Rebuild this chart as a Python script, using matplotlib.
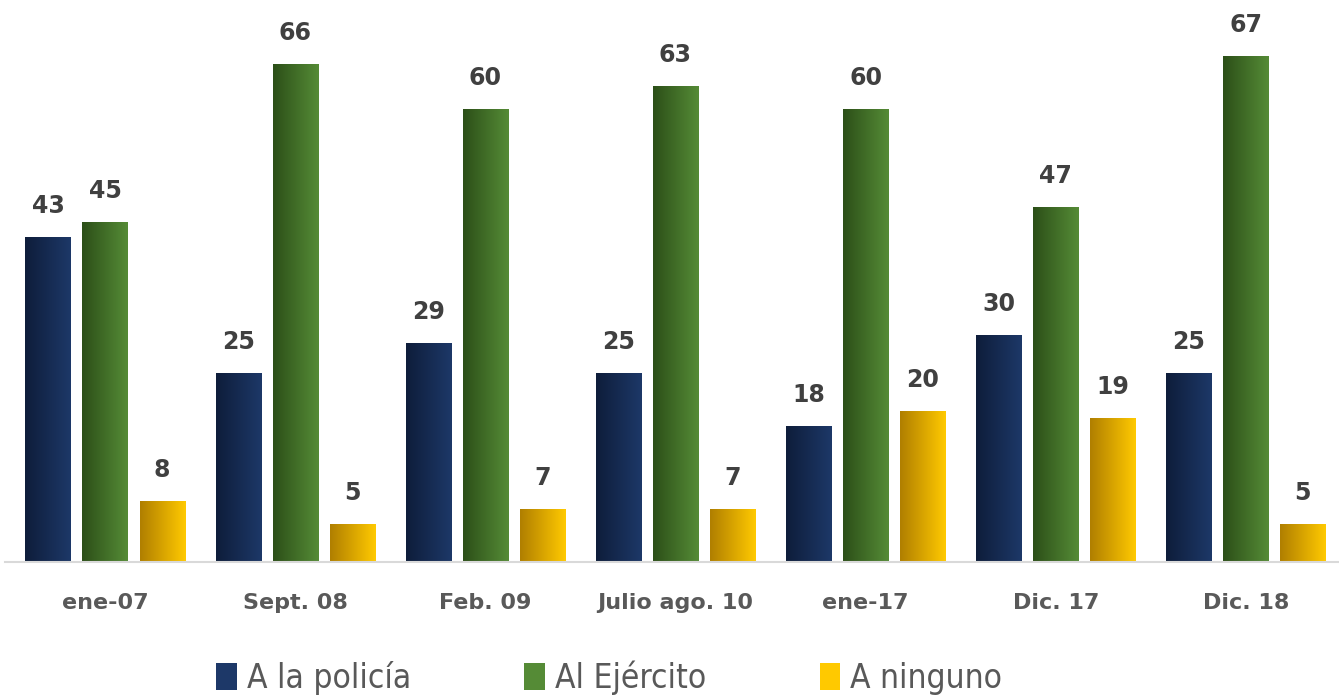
import numpy as np
import matplotlib.pyplot as plt
from matplotlib.colors import LinearSegmentedColormap
from matplotlib.patches import Patch

periodos = ['ene-07', 'Sept. 08', 'Feb. 09', 'Julio ago. 10', 'ene-17', 'Dic. 17', 'Dic. 18']
policia = [43, 25, 29, 25, 18, 30, 25]
ejercito = [45, 66, 60, 63, 60, 47, 67]
ninguno = [8, 5, 7, 7, 20, 19, 5]
series = ['A la policía', 'Al Ejército', 'A ninguno']

# gradient colours (left dark -> right light)
grads = [('#0e1d3a', '#1d3868'), ('#2c4f18', '#558b36'), ('#b07f00', '#ffc900')]

fig = plt.figure(figsize=(13.39, 6.97), dpi=100)
ax = fig.add_axes([5 / 1339, 135 / 697, 1 - 5 / 1339, 543 / 697])

x = np.arange(len(periodos))
w = 0.237
off = 0.3
grad = np.linspace(0, 1, 64).reshape(1, -1)

for i, (vals, (c0, c1)) in enumerate(zip([policia, ejercito, ninguno], grads)):
    cmap = LinearSegmentedColormap.from_list('g%d' % i, [c0, c1])
    bars = ax.bar(x + (i - 1) * off, vals, w, color='none', edgecolor='none', zorder=3)
    for b in bars:
        x0, y0 = b.get_x(), b.get_y()
        ax.imshow(grad, cmap=cmap, extent=[x0, x0 + b.get_width(), y0, y0 + b.get_height()],
                  aspect='auto', zorder=2, interpolation='bilinear')
    ax.bar_label(bars, padding=14, fontsize=17, fontweight='bold', color='#404040')

ax.set_xlim(-0.526, 6.49)
ax.set_ylim(0, 72)
ax.set_xticks(x)
ax.set_xticklabels(periodos, fontsize=16, fontweight='bold', color='#595959')
ax.tick_params(axis='x', length=0, pad=22)
ax.set_yticks([])
for s in ['top', 'right', 'left']:
    ax.spines[s].set_visible(False)
ax.spines['bottom'].set_color('#d9d9d9')
ax.spines['bottom'].set_linewidth(1.5)

handles = [Patch(facecolor=c1, edgecolor='none') for c0, c1 in grads]
fig.legend(handles, series, loc='lower center', bbox_to_anchor=(0.455, -0.04), ncol=3,
           frameon=False, handlelength=0.62, handleheight=0.9, handletextpad=0.3,
           columnspacing=3.4,
           prop={'family': 'DejaVu Sans', 'stretch': 'condensed', 'size': 24},
           labelcolor='#595959')

fig.savefig('out.png', dpi=100)
